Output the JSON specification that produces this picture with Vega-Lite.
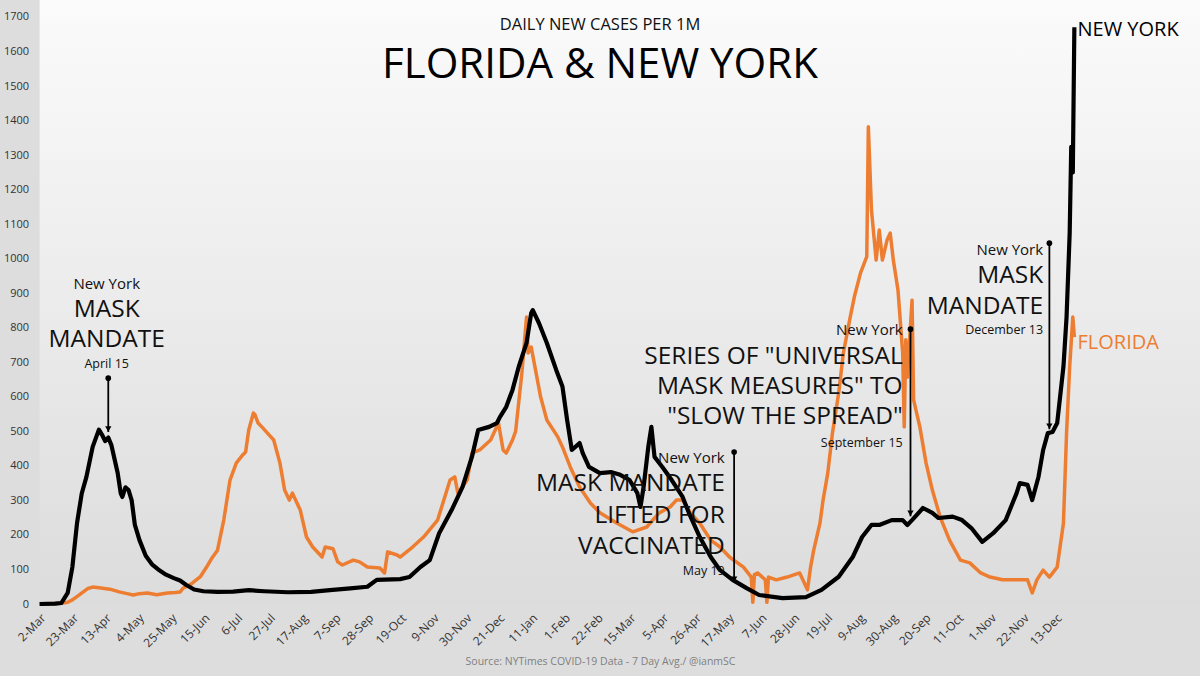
{
  "$schema": "https://vega.github.io/schema/vega-lite/v6.json",
  "width": 1160.4,
  "height": 604,
  "autosize": "none",
  "padding": {"left": 39.6, "top": 0, "right": 0, "bottom": 72},
  "background": "#dddddd",
  "title": {
    "text": "DAILY NEW CASES PER 1M",
    "subtitle": "FLORIDA & NEW YORK",
    "anchor": "middle",
    "frame": "group",
    "offset": -86,
    "dx": -19.8,
    "font": "Open Sans",
    "fontSize": 16.5,
    "fontWeight": "normal",
    "color": "#111111",
    "subtitleFont": "Open Sans",
    "subtitleFontSize": 42,
    "subtitleColor": "#000000",
    "subtitlePadding": 12
  },
  "config": {
    "view": {"stroke": null, "fill": {"gradient": "linear", "x1": 0, "y1": 0, "x2": 0, "y2": 1, "stops": [{"offset": 0, "color": "#fbfbfb"}, {"offset": 1, "color": "#dcdcdc"}]}},
    "font": "Open Sans"
  },
  "datasets": {
    "ny": [
      {"date":"2020-03-02","value":0},{"date":"2020-03-12","value":1},{"date":"2020-03-16","value":3},{"date":"2020-03-20","value":32},{"date":"2020-03-23","value":107},{"date":"2020-03-26","value":235},{"date":"2020-03-29","value":320},{"date":"2020-04-01","value":368},{"date":"2020-04-05","value":455},{"date":"2020-04-09","value":505},{"date":"2020-04-11","value":490},{"date":"2020-04-13","value":472},{"date":"2020-04-15","value":482},{"date":"2020-04-17","value":460},{"date":"2020-04-19","value":420},{"date":"2020-04-21","value":380},{"date":"2020-04-23","value":320},{"date":"2020-04-24","value":310},{"date":"2020-04-26","value":338},{"date":"2020-04-28","value":330},{"date":"2020-04-30","value":300},{"date":"2020-05-02","value":230},{"date":"2020-05-05","value":185},{"date":"2020-05-09","value":140},{"date":"2020-05-13","value":115},{"date":"2020-05-17","value":100},{"date":"2020-05-22","value":85},{"date":"2020-05-27","value":75},{"date":"2020-05-31","value":68},{"date":"2020-06-04","value":55},{"date":"2020-06-09","value":42},{"date":"2020-06-15","value":37},{"date":"2020-06-24","value":35},{"date":"2020-07-04","value":36},{"date":"2020-07-14","value":40},{"date":"2020-07-24","value":37},{"date":"2020-08-08","value":34},{"date":"2020-08-23","value":35},{"date":"2020-09-04","value":40},{"date":"2020-09-17","value":45},{"date":"2020-09-28","value":50},{"date":"2020-10-04","value":70},{"date":"2020-10-19","value":72},{"date":"2020-10-25","value":78},{"date":"2020-11-01","value":107},{"date":"2020-11-07","value":127},{"date":"2020-11-13","value":205},{"date":"2020-11-21","value":272},{"date":"2020-11-28","value":339},{"date":"2020-12-04","value":426},{"date":"2020-12-08","value":504},{"date":"2020-12-15","value":513},{"date":"2020-12-20","value":524},{"date":"2020-12-22","value":542},{"date":"2020-12-26","value":571},{"date":"2020-12-30","value":620},{"date":"2021-01-03","value":687},{"date":"2021-01-08","value":756},{"date":"2021-01-11","value":843},{"date":"2021-01-12","value":851},{"date":"2021-01-16","value":813},{"date":"2021-01-21","value":756},{"date":"2021-01-27","value":678},{"date":"2021-01-31","value":630},{"date":"2021-02-03","value":533},{"date":"2021-02-06","value":446},{"date":"2021-02-11","value":466},{"date":"2021-02-13","value":437},{"date":"2021-02-17","value":397},{"date":"2021-02-24","value":379},{"date":"2021-03-03","value":382},{"date":"2021-03-09","value":374},{"date":"2021-03-15","value":359},{"date":"2021-03-20","value":321},{"date":"2021-03-22","value":281},{"date":"2021-03-24","value":339},{"date":"2021-03-27","value":455},{"date":"2021-03-29","value":513},{"date":"2021-03-31","value":426},{"date":"2021-04-05","value":397},{"date":"2021-04-11","value":359},{"date":"2021-04-18","value":310},{"date":"2021-04-22","value":264},{"date":"2021-04-29","value":194},{"date":"2021-05-06","value":136},{"date":"2021-05-12","value":98},{"date":"2021-05-20","value":70},{"date":"2021-05-29","value":46},{"date":"2021-06-06","value":26},{"date":"2021-06-21","value":17},{"date":"2021-07-06","value":20},{"date":"2021-07-16","value":41},{"date":"2021-07-27","value":79},{"date":"2021-08-05","value":136},{"date":"2021-08-11","value":194},{"date":"2021-08-17","value":229},{"date":"2021-08-22","value":229},{"date":"2021-08-30","value":243},{"date":"2021-09-06","value":243},{"date":"2021-09-09","value":229},{"date":"2021-09-12","value":243},{"date":"2021-09-19","value":278},{"date":"2021-09-25","value":264},{"date":"2021-09-29","value":249},{"date":"2021-10-08","value":253},{"date":"2021-10-14","value":243},{"date":"2021-10-20","value":220},{"date":"2021-10-27","value":180},{"date":"2021-11-03","value":205},{"date":"2021-11-11","value":243},{"date":"2021-11-18","value":321},{"date":"2021-11-20","value":350},{"date":"2021-11-25","value":345},{"date":"2021-11-28","value":301},{"date":"2021-12-02","value":368},{"date":"2021-12-05","value":446},{"date":"2021-12-08","value":495},{"date":"2021-12-11","value":498},{"date":"2021-12-14","value":524},{"date":"2021-12-18","value":687},{"date":"2021-12-20","value":831},{"date":"2021-12-22","value":1074},{"date":"2021-12-23","value":1324},{"date":"2021-12-24","value":1250},{"date":"2021-12-25","value":1670}
    ],
    "fl": [
      {"date":"2020-03-02","value":0},{"date":"2020-03-16","value":2},{"date":"2020-03-20","value":5},{"date":"2020-03-23","value":12},{"date":"2020-03-27","value":25},{"date":"2020-03-30","value":35},{"date":"2020-04-02","value":45},{"date":"2020-04-05","value":49},{"date":"2020-04-09","value":47},{"date":"2020-04-16","value":43},{"date":"2020-04-22","value":35},{"date":"2020-04-27","value":30},{"date":"2020-05-01","value":26},{"date":"2020-05-05","value":30},{"date":"2020-05-10","value":32},{"date":"2020-05-16","value":27},{"date":"2020-05-23","value":32},{"date":"2020-05-28","value":33},{"date":"2020-05-31","value":35},{"date":"2020-06-02","value":46},{"date":"2020-06-06","value":55},{"date":"2020-06-08","value":61},{"date":"2020-06-13","value":79},{"date":"2020-06-17","value":107},{"date":"2020-06-20","value":130},{"date":"2020-06-24","value":156},{"date":"2020-06-28","value":243},{"date":"2020-07-02","value":359},{"date":"2020-07-06","value":408},{"date":"2020-07-10","value":431},{"date":"2020-07-12","value":440},{"date":"2020-07-14","value":504},{"date":"2020-07-17","value":553},{"date":"2020-07-18","value":548},{"date":"2020-07-20","value":524},{"date":"2020-07-23","value":510},{"date":"2020-07-26","value":495},{"date":"2020-07-30","value":475},{"date":"2020-08-03","value":408},{"date":"2020-08-06","value":330},{"date":"2020-08-09","value":301},{"date":"2020-08-11","value":321},{"date":"2020-08-16","value":272},{"date":"2020-08-20","value":194},{"date":"2020-08-24","value":165},{"date":"2020-08-30","value":136},{"date":"2020-09-01","value":165},{"date":"2020-09-06","value":160},{"date":"2020-09-09","value":122},{"date":"2020-09-12","value":113},{"date":"2020-09-19","value":127},{"date":"2020-09-23","value":122},{"date":"2020-09-28","value":107},{"date":"2020-10-06","value":104},{"date":"2020-10-09","value":90},{"date":"2020-10-11","value":151},{"date":"2020-10-17","value":142},{"date":"2020-10-19","value":136},{"date":"2020-10-27","value":165},{"date":"2020-11-03","value":194},{"date":"2020-11-12","value":243},{"date":"2020-11-20","value":359},{"date":"2020-11-23","value":368},{"date":"2020-11-25","value":321},{"date":"2020-12-01","value":359},{"date":"2020-12-04","value":437},{"date":"2020-12-09","value":446},{"date":"2020-12-16","value":475},{"date":"2020-12-21","value":524},{"date":"2020-12-24","value":446},{"date":"2020-12-26","value":437},{"date":"2020-12-30","value":475},{"date":"2021-01-01","value":500},{"date":"2021-01-05","value":669},{"date":"2021-01-08","value":831},{"date":"2021-01-09","value":727},{"date":"2021-01-11","value":744},{"date":"2021-01-17","value":600},{"date":"2021-01-21","value":533},{"date":"2021-01-28","value":484},{"date":"2021-01-31","value":455},{"date":"2021-02-05","value":397},{"date":"2021-02-11","value":339},{"date":"2021-02-18","value":292},{"date":"2021-02-24","value":264},{"date":"2021-03-07","value":234},{"date":"2021-03-17","value":209},{"date":"2021-03-26","value":223},{"date":"2021-04-03","value":264},{"date":"2021-04-10","value":281},{"date":"2021-04-14","value":301},{"date":"2021-04-18","value":301},{"date":"2021-04-23","value":264},{"date":"2021-04-29","value":234},{"date":"2021-05-06","value":185},{"date":"2021-05-12","value":165},{"date":"2021-05-18","value":136},{"date":"2021-05-27","value":107},{"date":"2021-06-01","value":78},{"date":"2021-06-02","value":5},{"date":"2021-06-03","value":85},{"date":"2021-06-05","value":90},{"date":"2021-06-10","value":70},{"date":"2021-06-11","value":5},{"date":"2021-06-12","value":78},{"date":"2021-06-17","value":70},{"date":"2021-06-24","value":78},{"date":"2021-07-02","value":90},{"date":"2021-07-07","value":41},{"date":"2021-07-09","value":107},{"date":"2021-07-11","value":156},{"date":"2021-07-15","value":234},{"date":"2021-07-17","value":301},{"date":"2021-07-20","value":379},{"date":"2021-07-23","value":495},{"date":"2021-07-27","value":611},{"date":"2021-07-30","value":727},{"date":"2021-08-03","value":822},{"date":"2021-08-06","value":889},{"date":"2021-08-10","value":959},{"date":"2021-08-14","value":1006},{"date":"2021-08-15","value":1382},{"date":"2021-08-17","value":1141},{"date":"2021-08-20","value":996},{"date":"2021-08-22","value":1083},{"date":"2021-08-24","value":996},{"date":"2021-08-27","value":1054},{"date":"2021-08-29","value":1074},{"date":"2021-08-31","value":996},{"date":"2021-09-03","value":909},{"date":"2021-09-06","value":727},{"date":"2021-09-07","value":513},{"date":"2021-09-08","value":765},{"date":"2021-09-09","value":657},{"date":"2021-09-12","value":880},{"date":"2021-09-13","value":591},{"date":"2021-09-17","value":513},{"date":"2021-09-21","value":408},{"date":"2021-09-25","value":330},{"date":"2021-09-30","value":252},{"date":"2021-10-06","value":185},{"date":"2021-10-13","value":127},{"date":"2021-10-19","value":119},{"date":"2021-10-26","value":90},{"date":"2021-11-01","value":78},{"date":"2021-11-09","value":70},{"date":"2021-11-16","value":70},{"date":"2021-11-25","value":70},{"date":"2021-11-28","value":32},{"date":"2021-12-01","value":70},{"date":"2021-12-05","value":98},{"date":"2021-12-09","value":78},{"date":"2021-12-14","value":107},{"date":"2021-12-18","value":234},{"date":"2021-12-20","value":495},{"date":"2021-12-22","value":687},{"date":"2021-12-24","value":831},{"date":"2021-12-25","value":773}
    ],
    "notesCenter": [
      {"date":"2020-04-14","value":927,"text":"New York","kind":"place"},
      {"date":"2020-04-14","value":851,"text":"MASK","kind":"headline"},
      {"date":"2020-04-14","value":765,"text":"MANDATE","kind":"headline"},
      {"date":"2020-04-14","value":695,"text":"April 15","kind":"day"}
    ],
    "notesRight": [
      {"date":"2021-05-15","value":423,"text":"New York","kind":"place"},
      {"date":"2021-05-15","value":348,"text":"MASK MANDATE","kind":"headline"},
      {"date":"2021-05-15","value":255,"text":"LIFTED FOR","kind":"headline"},
      {"date":"2021-05-15","value":165,"text":"VACCINATED","kind":"headline"},
      {"date":"2021-05-15","value":96,"text":"May 19","kind":"day"},
      {"date":"2021-09-06","value":793,"text":"New York","kind":"place"},
      {"date":"2021-09-06","value":715,"text":"SERIES OF \"UNIVERSAL","kind":"headline"},
      {"date":"2021-09-06","value":628,"text":"MASK MEASURES\" TO","kind":"headline"},
      {"date":"2021-09-06","value":542,"text":"\"SLOW THE SPREAD\"","kind":"headline"},
      {"date":"2021-09-06","value":466,"text":"September 15","kind":"day"},
      {"date":"2021-12-05","value":1025,"text":"New York","kind":"place"},
      {"date":"2021-12-05","value":950,"text":"MASK","kind":"headline"},
      {"date":"2021-12-05","value":860,"text":"MANDATE","kind":"headline"},
      {"date":"2021-12-05","value":793,"text":"December 13","kind":"day"}
    ],
    "arrows": [
      {"date":"2020-04-15","value":654,"tip":498},
      {"date":"2021-05-21","value":440,"tip":63},
      {"date":"2021-09-11","value":796,"tip":254},
      {"date":"2021-12-09","value":1045,"tip":506}
    ],
    "tips": [
      {"date":"2020-04-15","value":498},
      {"date":"2021-05-21","value":63},
      {"date":"2021-09-11","value":254},
      {"date":"2021-12-09","value":506}
    ],
    "labels": [
      {"date":"2021-12-27","value":1662,"text":"NEW YORK","series":"New York"},
      {"date":"2021-12-27","value":756,"text":"FLORIDA","series":"Florida"}
    ]
  },
  "encoding": {
    "x": {
      "field": "date", "type": "temporal",
      "scale": {"type": "utc", "domain": [{"year": 2020, "month": 3, "date": 2, "utc": true}, {"year": 2022, "month": 3, "date": 15, "hours": 12, "utc": true}], "nice": false},
      "axis": {
        "orient": "bottom", "zindex": 1,
        "values": [
          {"year":2020,"month":3,"date":2,"utc":true},{"year":2020,"month":3,"date":23,"utc":true},{"year":2020,"month":4,"date":13,"utc":true},{"year":2020,"month":5,"date":4,"utc":true},{"year":2020,"month":5,"date":25,"utc":true},{"year":2020,"month":6,"date":15,"utc":true},{"year":2020,"month":7,"date":6,"utc":true},{"year":2020,"month":7,"date":27,"utc":true},{"year":2020,"month":8,"date":17,"utc":true},{"year":2020,"month":9,"date":7,"utc":true},{"year":2020,"month":9,"date":28,"utc":true},{"year":2020,"month":10,"date":19,"utc":true},{"year":2020,"month":11,"date":9,"utc":true},{"year":2020,"month":11,"date":30,"utc":true},{"year":2020,"month":12,"date":21,"utc":true},{"year":2021,"month":1,"date":11,"utc":true},{"year":2021,"month":2,"date":1,"utc":true},{"year":2021,"month":2,"date":22,"utc":true},{"year":2021,"month":3,"date":15,"utc":true},{"year":2021,"month":4,"date":5,"utc":true},{"year":2021,"month":4,"date":26,"utc":true},{"year":2021,"month":5,"date":17,"utc":true},{"year":2021,"month":6,"date":7,"utc":true},{"year":2021,"month":6,"date":28,"utc":true},{"year":2021,"month":7,"date":19,"utc":true},{"year":2021,"month":8,"date":9,"utc":true},{"year":2021,"month":8,"date":30,"utc":true},{"year":2021,"month":9,"date":20,"utc":true},{"year":2021,"month":10,"date":11,"utc":true},{"year":2021,"month":11,"date":1,"utc":true},{"year":2021,"month":11,"date":22,"utc":true},{"year":2021,"month":12,"date":13,"utc":true}
        ],
        "labelExpr": "utcFormat(datum.value, '%-d-%b')",
        "labelAngle": -45, "labelFont": "Open Sans", "labelFontSize": 12, "labelColor": "#333333",
        "labelOverlap": false, "labelFlush": false, "labelBound": false, "labelPadding": 8,
        "ticks": false, "domain": false, "grid": false,
        "title": "Source: NYTimes COVID-19 Data - 7 Day Avg./ @ianmSC",
        "titleFont": "Open Sans", "titleFontSize": 10.5, "titleFontWeight": "normal", "titleColor": "#808080", "titlePadding": 8, "titleX": 560.4
      }
    },
    "y": {
      "field": "value", "type": "quantitative",
      "scale": {"domain": [0, 1749.2], "nice": false, "zero": false},
      "axis": {
        "orient": "left", "zindex": 1,
        "values": [0,100,200,300,400,500,600,700,800,900,1000,1100,1200,1300,1400,1500,1600,1700],
        "format": "d",
        "labelFont": "Open Sans", "labelFontSize": 11, "labelColor": "#333333", "labelPadding": 11,
        "ticks": false, "domain": false, "grid": false, "title": null
      }
    }
  },
  "layer": [
    {
      "data": {"name": "fl"},
      "mark": {"type": "line", "color": "#ED7D31", "strokeWidth": 3.5, "strokeJoin": "round"}
    },
    {
      "data": {"name": "ny"},
      "mark": {"type": "line", "color": "#000000", "strokeWidth": 4.2, "strokeJoin": "round"}
    },
    {
      "data": {"name": "arrows"},
      "mark": {"type": "rule", "color": "#000000", "strokeWidth": 1.8},
      "encoding": {"y2": {"field": "tip"}}
    },
    {
      "data": {"name": "arrows"},
      "mark": {"type": "point", "shape": "circle", "filled": true, "color": "#000000", "size": 32, "opacity": 1}
    },
    {
      "data": {"name": "tips"},
      "mark": {"type": "point", "shape": "triangle-down", "filled": true, "color": "#000000", "size": 40, "opacity": 1, "yOffset": -3}
    },
    {
      "data": {"name": "notesCenter"},
      "transform": [{"filter": {"field": "kind", "equal": "place"}}],
      "mark": {"type": "text", "align": "center", "baseline": "middle", "font": "Open Sans", "fontSize": 15, "color": "#111111"},
      "encoding": {"text": {"field": "text"}}
    },
    {
      "data": {"name": "notesCenter"},
      "transform": [{"filter": {"field": "kind", "equal": "headline"}}],
      "mark": {"type": "text", "align": "center", "baseline": "middle", "font": "Open Sans", "fontSize": 24.5, "color": "#111111"},
      "encoding": {"text": {"field": "text"}}
    },
    {
      "data": {"name": "notesCenter"},
      "transform": [{"filter": {"field": "kind", "equal": "day"}}],
      "mark": {"type": "text", "align": "center", "baseline": "middle", "font": "Open Sans", "fontSize": 12.5, "color": "#111111"},
      "encoding": {"text": {"field": "text"}}
    },
    {
      "data": {"name": "notesRight"},
      "transform": [{"filter": {"field": "kind", "equal": "place"}}],
      "mark": {"type": "text", "align": "right", "baseline": "middle", "font": "Open Sans", "fontSize": 15, "color": "#111111"},
      "encoding": {"text": {"field": "text"}}
    },
    {
      "data": {"name": "notesRight"},
      "transform": [{"filter": {"field": "kind", "equal": "headline"}}],
      "mark": {"type": "text", "align": "right", "baseline": "middle", "font": "Open Sans", "fontSize": 24.5, "color": "#111111"},
      "encoding": {"text": {"field": "text"}}
    },
    {
      "data": {"name": "notesRight"},
      "transform": [{"filter": {"field": "kind", "equal": "day"}}],
      "mark": {"type": "text", "align": "right", "baseline": "middle", "font": "Open Sans", "fontSize": 12.5, "color": "#111111"},
      "encoding": {"text": {"field": "text"}}
    },
    {
      "data": {"name": "labels"},
      "mark": {"type": "text", "align": "left", "baseline": "middle", "font": "Open Sans", "fontSize": 20},
      "encoding": {
        "text": {"field": "text"},
        "color": {"field": "series", "type": "nominal", "scale": {"domain": ["New York", "Florida"], "range": ["#000000", "#ED7D31"]}, "legend": null}
      }
    }
  ]
}
